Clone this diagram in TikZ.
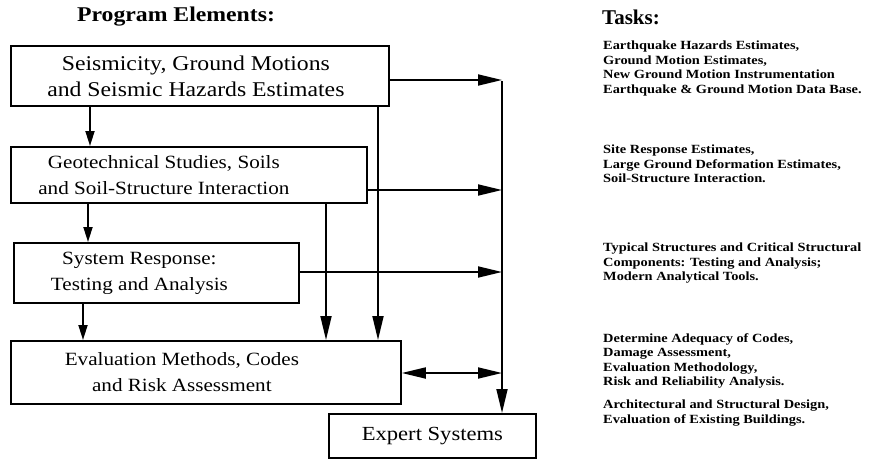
\documentclass[tikz,border=0pt]{standalone}
\usepackage{fontspec}
\setmainfont{Liberation Serif}
\newfontfamily\taskfont[FakeStretch=1.15]{Liberation Serif}
\newfontfamily\boxfont[FakeStretch=1.13]{Liberation Serif}
\usetikzlibrary{arrows.meta}

\begin{document}
\begin{tikzpicture}[x=1pt,y=-1pt,
  box/.style={draw,line width=1.8pt,anchor=north west,inner sep=0pt},
  boxtxt/.style={align=center,inner sep=0pt,font=\boxfont\fontsize{18.7}{26}\selectfont},
  task/.style={anchor=north west,align=left,inner sep=0pt,font=\taskfont\bfseries\fontsize{12.5}{14.5}\selectfont},
  heading/.style={inner sep=0pt,font=\bfseries\fontsize{21}{24}\selectfont},
  arr/.style={line width=1.8pt,-{Triangle[length=24pt,width=11pt]}},
  sarr/.style={line width=1.8pt,-{Triangle[length=15pt,width=9pt]}},
  darr/.style={line width=1.8pt,{Triangle[length=24pt,width=11pt]}-{Triangle[length=24pt,width=11pt]}}]
\useasboundingbox (0,0) rectangle (873,458);

\node[heading] (progtitle) at (176,17) {\boxfont Program Elements:};
\node[heading,anchor=west] (tasktitle) at (602,17) {Tasks:};

\node[box,minimum width=378pt,minimum height=60pt,
  label={[boxtxt,font=\boxfont\fontsize{21}{26}\selectfont,xshift=-4pt]center:{Seismicity, Ground Motions\\and Seismic Hazards Estimates}}] (seis) at (10,45) {};
\node[box,minimum width=356pt,minimum height=56pt,
  label={[boxtxt,xshift=-25pt]center:{Geotechnical Studies, Soils\\and Soil-Structure Interaction}}] (geo) at (10,146) {};
\node[box,minimum width=285pt,minimum height=60pt,
  label={[boxtxt,xshift=-17pt]center:{System Response:\\Testing and Analysis}}] (sys) at (13,242) {};
\node[box,minimum width=390pt,minimum height=63pt,
  label={[boxtxt,xshift=-24pt]center:{Evaluation Methods, Codes\\and Risk Assessment}}] (eval) at (10,340) {};
\node[box,minimum width=207pt,minimum height=44pt,font=\boxfont\fontsize{20}{26}\selectfont] (expert) at (328,413) {Expert Systems};

\node[task] (t1) at (603,41) {Earthquake Hazards Estimates,\\Ground Motion Estimates,\\New Ground Motion Instrumentation\\Earthquake \& Ground Motion Data Base.};
\node[task] (t2) at (603,145) {Site Response Estimates,\\Large Ground Deformation Estimates,\\Soil-Structure Interaction.};
\node[task] (t3) at (603,243) {Typical Structures and Critical Structural\\Components: Testing and Analysis;\\Modern Analytical Tools.};
\node[task] (t4) at (603,333) {Determine Adequacy of Codes,\\Damage Assessment,\\Evaluation Methodology,\\Risk and Reliability Analysis.};
\node[task] (t5) at (603,400) {Architectural and Structural Design,\\Evaluation of Existing Buildings.};

\coordinate (b1) at (502,80);
\coordinate (b2) at (502,190);
\coordinate (b3) at (502,272);
\coordinate (b4) at (502,373);

\draw[sarr] ([xshift=80pt]seis.south west) -- ([xshift=80pt]geo.north west);
\draw[sarr] ([xshift=78pt]geo.south west) -- ([xshift=78pt]geo.south west |- sys.north);
\draw[sarr] ([xshift=70pt]sys.south west) -- ([xshift=70pt]sys.south west |- eval.north);
\draw[arr] ([xshift=368pt]seis.south west) -- ([xshift=368pt]seis.south west |- eval.north);
\draw[arr] ([xshift=316pt]geo.south west) -- ([xshift=316pt]geo.south west |- eval.north);

\draw[arr] (seis.east |- b1) -- (b1);
\draw[arr] (geo.east |- b2) -- (b2);
\draw[arr] (sys.east |- b3) -- (b3);
\draw[darr] (eval.east |- b4) -- (b4);
\draw[arr] ([yshift=-0.9pt]b1) -- (b1 |- expert.north);
\end{tikzpicture}
\end{document}
